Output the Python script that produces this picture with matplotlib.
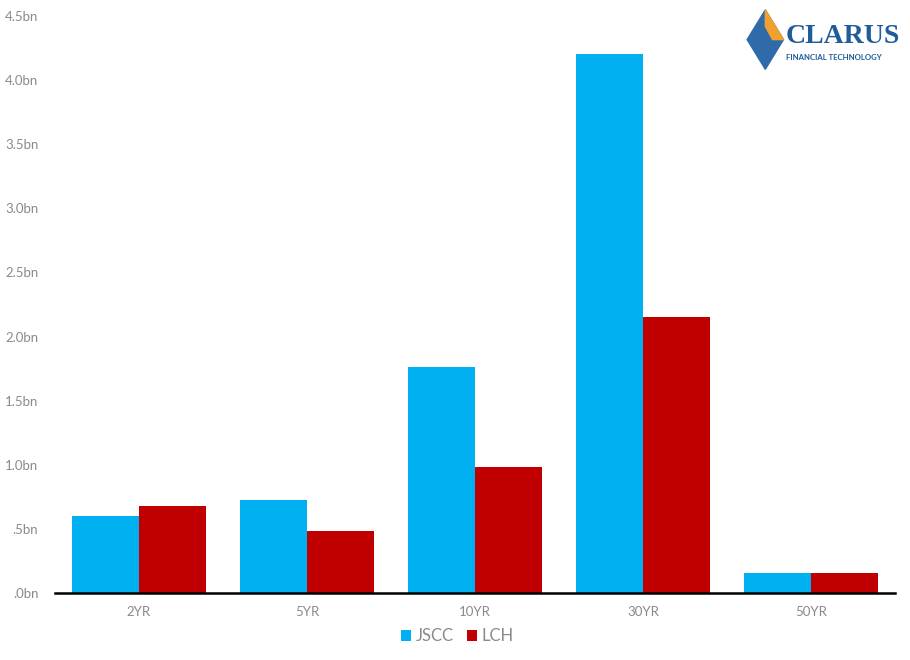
import numpy as np
import matplotlib
matplotlib.use("Agg")
import matplotlib.pyplot as plt
from matplotlib.patches import Polygon

# --- data ---
tenors = ["2YR", "5YR", "10YR", "30YR", "50YR"]
jscc = [0.60, 0.725, 1.76, 4.20, 0.155]
lch = [0.68, 0.48, 0.98, 2.15, 0.155]
ytick_vals = [0, 0.5, 1.0, 1.5, 2.0, 2.5, 3.0, 3.5, 4.0, 4.5]
ytick_labels = [".0bn", ".5bn", "1.0bn", "1.5bn", "2.0bn", "2.5bn",
                "3.0bn", "3.5bn", "4.0bn", "4.5bn"]

plt.rcParams["font.family"] = ["Lato", "DejaVu Sans"]

fig = plt.figure(figsize=(9.1, 6.6), dpi=100)
ax = fig.add_axes([0.0604, 0.1015, 0.9231, 0.8743])

x = np.arange(len(tenors))
w = 0.4
ax.bar(x - w / 2, jscc, width=w, color="#00B0F0", label="JSCC")
ax.bar(x + w / 2, lch, width=w, color="#C00000", label="LCH")

ax.set_xlim(-0.5, len(tenors) - 0.5)
ax.set_ylim(0, 4.5)
ax.set_xticks(x)
ax.set_xticklabels(tenors)
ax.set_yticks(ytick_vals)
ax.set_yticklabels(ytick_labels)
ax.tick_params(axis="both", length=0, colors="#8A8A8A", labelsize=9.5)
ax.tick_params(axis="x", pad=9)
ax.tick_params(axis="y", pad=12)

for s in ["top", "right", "left"]:
    ax.spines[s].set_visible(False)
ax.spines["bottom"].set_color("black")
ax.spines["bottom"].set_linewidth(1.8)

leg = ax.legend(loc="upper center", bbox_to_anchor=(0.479, -0.035), ncol=2,
                frameon=False, fontsize=12, handlelength=0.6, handleheight=0.6,
                handletextpad=0.3, columnspacing=0.8)
for t in leg.get_texts():
    t.set_color("#8A8A8A")

# logo
lx, ly = 0.841, 0.94
diamond = Polygon([[lx, ly + 0.045], [lx + 0.02, ly], [lx, ly - 0.045], [lx - 0.02, ly]],
                  closed=True, transform=fig.transFigure, color="#2E6BA8")
fig.patches.append(diamond)
top = Polygon([[lx, ly + 0.045], [lx + 0.02, ly], [lx + 0.008, ly], [lx, ly + 0.02]],
              closed=True, transform=fig.transFigure, color="#F0A030")
fig.patches.append(top)
fig.text(0.863, 0.945, "CLARUS", family="Liberation Serif", fontsize=20,
         color="#1F5C99", va="center", ha="left", fontweight="bold")
fig.text(0.864, 0.913, "FINANCIAL TECHNOLOGY", fontsize=5.6, color="#1F5C99",
         va="center", ha="left", fontweight="bold")

fig.savefig("out.png", dpi=100)
